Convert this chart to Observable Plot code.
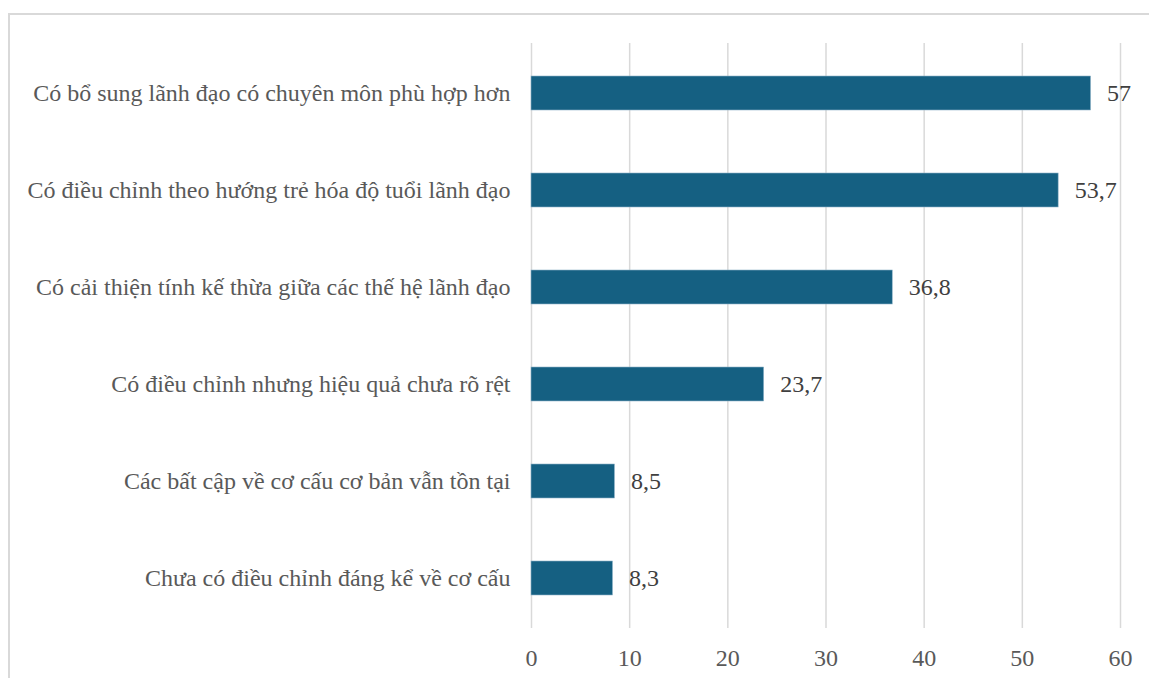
<!DOCTYPE html>
<html>
<head>
<meta charset="utf-8">
<script src="https://cdn.jsdelivr.net/npm/d3@7"></script>
<script src="https://cdn.jsdelivr.net/npm/@observablehq/plot@0.6"></script>
<style>
  body { margin: 0; background: #fff; }
  #wrap { position: relative; width: 1149px; height: 678px; overflow: hidden; }
  #frame { position: absolute; left: 8px; top: 13px; width: 1160px; height: 700px; border: 2px solid #d9d9d9; box-sizing: border-box; }
  #chart { position: absolute; left: 0; top: 0; }
  #chart svg, #chart svg text { font-family: "Liberation Serif", "Times New Roman", serif !important; }
</style>
</head>
<body>
<div id="wrap"><div id="frame"></div><div id="chart"></div></div>
<script>
const categories = [
  "Có bổ sung lãnh đạo có chuyên môn phù hợp hơn",
  "Có điều chỉnh theo hướng trẻ hóa độ tuổi lãnh đạo",
  "Có cải thiện tính kế thừa giữa các thế hệ lãnh đạo",
  "Có điều chỉnh nhưng hiệu quả chưa rõ rệt",
  "Các bất cập về cơ cấu cơ bản vẫn tồn tại",
  "Chưa có điều chỉnh đáng kể về cơ cấu"
];
const values = [57, 53.7, 36.8, 23.7, 8.5, 8.3];
const xTicks = [0, 10, 20, 30, 40, 50, 60];

const data = categories.map((c, i) => ({category: c, value: values[i]}));
const fmt = v => String(v).replace(".", ",");
const font = "'Liberation Serif', 'Times New Roman', serif";

const chart = Plot.plot({
  width: 1149,
  height: 678,
  marginLeft: 531,
  marginRight: 29,
  marginTop: 43,
  marginBottom: 50,
  style: {fontFamily: font, fontSize: "24px", color: "#595959", background: "transparent"},
  x: {domain: [0, 60], ticks: xTicks, label: null},
  y: {domain: categories, paddingInner: 0.65, paddingOuter: 0.325, label: null},
  marks: [
    Plot.gridX(xTicks, {stroke: "#d9d9d9", strokeOpacity: 1, strokeWidth: 1.5}),
    Plot.axisX({ticks: xTicks, tickSize: 0, tickPadding: 20, fontSize: 24, fill: "#595959"}),
    Plot.axisY({tickSize: 0, tickPadding: 21, fontSize: 24, fill: "#595959"}),
    Plot.barX(data, {x: "value", y: "category", fill: "#156082", stroke: "#8fb3c8", strokeWidth: 0.6}),
    Plot.text(data, {x: "value", y: "category", text: d => fmt(d.value), dx: 16, textAnchor: "start", fontSize: 24, fill: "#404040"})
  ]
});
document.getElementById("chart").appendChild(chart);
</script>
</body>
</html>
